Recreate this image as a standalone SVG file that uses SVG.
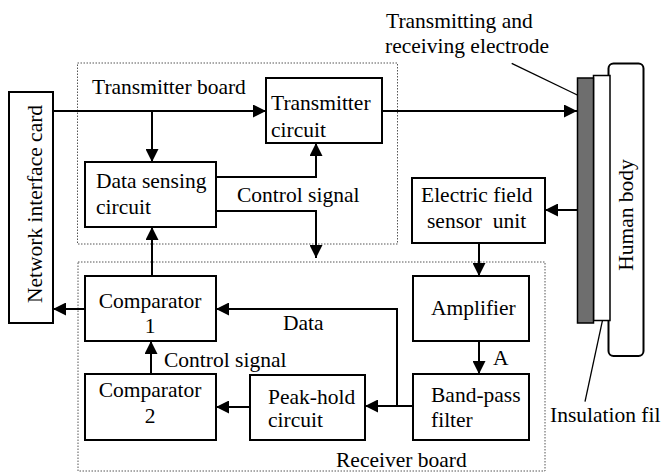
<svg xmlns="http://www.w3.org/2000/svg" width="661" height="472" viewBox="0 0 661 472">
<style>
text{font-family:'Liberation Serif',serif;font-size:21.5px;fill:#000}
.box{fill:#fff;stroke:#000;stroke-width:2}
.board{fill:none;stroke:#555;stroke-width:1;stroke-dasharray:1.5,1.5}
.wire{fill:none;stroke:#000;stroke-width:2}
.arr{marker-end:url(#ah)}
.lead{fill:none;stroke:#000;stroke-width:1.3}
.c{text-anchor:middle}
</style>
<defs>
<marker id="ah" markerWidth="13" markerHeight="13" refX="13" refY="6.5" orient="auto" markerUnits="userSpaceOnUse"><path d="M0,0 L13,6.5 L0,13 z" fill="#000"/></marker>
</defs>
<rect width="661" height="472" fill="#fff"/>
<g id="transmitter-board"><rect class="board" x="77.5" y="63" width="320" height="181"/><text x="92" y="94">Transmitter board</text></g>
<g id="receiver-board"><rect class="board" x="78" y="262" width="467" height="209"/><text x="336" y="467">Receiver board</text></g>
<g id="connectors">
<path class="wire arr" d="M53,111 H266"/>
<path class="wire arr" d="M152,111 V162"/>
<path class="wire arr" d="M216,177 H316 V143"/>
<path class="wire arr" d="M216,211 H316 V258"/>
<path class="wire arr" d="M152,276 V227"/>
<path class="wire arr" d="M85,309 H53"/>
<path class="wire arr" d="M413,406 H365"/>
<path class="wire arr" d="M397,406 V309 H216"/>
<path class="wire arr" d="M151,374 V341"/>
<path class="wire arr" d="M250,407 H216"/>
<path class="wire arr" d="M382,111 H577"/>
<path class="wire arr" d="M577,210 H545"/>
<path class="wire arr" d="M479,243 V276"/>
<path class="wire arr" d="M479,341 V374"/>
<path class="lead" d="M511.7,63.3 L577.3,95"/>
<path class="lead" d="M602.7,319.3 L585,401.7"/>
</g>
<g id="nic"><rect class="box" x="9" y="92" width="44" height="231"/><text class="c" transform="translate(42,204) rotate(-90)">Network interface card</text></g>
<g id="transmitter-circuit"><rect class="box" x="266" y="78" width="116" height="65"/><text x="271" y="110">Transmitter</text><text x="271" y="137">circuit</text></g>
<g id="data-sensing"><rect class="box" x="85" y="162" width="131" height="65"/><text x="96" y="188">Data sensing</text><text x="96" y="214">circuit</text></g>
<g id="comparator1"><rect class="box" x="85" y="276" width="131" height="65"/><text class="c" x="150" y="308">Comparator</text><text class="c" x="150" y="333">1</text></g>
<g id="comparator2"><rect class="box" x="85" y="374" width="131" height="66"/><text class="c" x="150" y="397">Comparator</text><text class="c" x="150" y="423">2</text></g>
<g id="peak-hold"><rect class="box" x="250" y="375" width="115" height="65"/><text x="268" y="404">Peak-hold</text><text x="268" y="427">circuit</text></g>
<g id="sensor"><rect class="box" x="412" y="178" width="133" height="65"/><text x="421" y="202">Electric field</text><text x="427" y="228" xml:space="preserve">sensor  unit</text></g>
<g id="amplifier"><rect class="box" x="413" y="276" width="116" height="65"/><text x="431" y="315">Amplifier</text></g>
<g id="bandpass"><rect class="box" x="413" y="374" width="116" height="66"/><text x="431" y="402">Band-pass</text><text x="431" y="427">filter</text></g>
<g id="human-body"><rect class="box" x="608.5" y="63.5" width="35" height="292.5" rx="5"/><text class="c" transform="translate(632.5,215) rotate(-90)">Human body</text></g>
<g id="insulation"><rect x="593.5" y="75.5" width="16.5" height="245" fill="#fff" stroke="#000" stroke-width="1.5"/></g>
<g id="electrode"><rect x="577.5" y="78" width="16" height="245" fill="#6e6e6e" stroke="#000" stroke-width="1.5"/></g>
<g id="labels">
<text x="386" y="28">Transmitting and</text>
<text x="385" y="53">receiving electrode</text>
<text x="237" y="202">Control signal</text>
<text x="164" y="367">Control signal</text>
<text x="283" y="330">Data</text>
<text x="493" y="365">A</text>
<text x="550" y="422">Insulation fil</text>
</g>
</svg>
